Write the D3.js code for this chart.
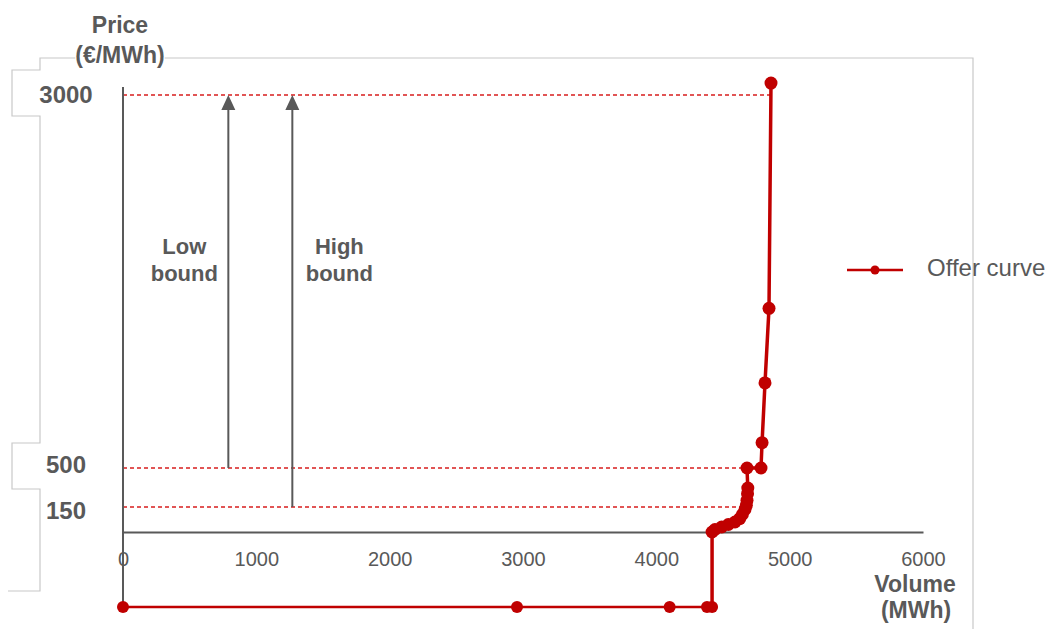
<!DOCTYPE html>
<html>
<head>
<meta charset="utf-8">
<script src="https://cdn.jsdelivr.net/npm/d3@7"></script>
<style>
  html, body { margin: 0; padding: 0; background: #fff; }
  svg { display: block; font-family: "Liberation Sans", Arial, sans-serif; }
</style>
</head>
<body>
<svg id="chart" width="1052" height="629"></svg>
<script>
// Offer curve: cumulative volume (MWh) against offer price (€/MWh)
const volumes = [0, 2955, 4100, 4380, 4418, 4418, 4440, 4490, 4540, 4590, 4625, 4645, 4665, 4675, 4680, 4684, 4686, 4680, 4785, 4793, 4815, 4845, 4860];
const prices  = [-500, -500, -500, -500, -500, 0, 15, 30, 45, 60, 80, 105, 135, 165, 210, 270, 320, 500, 500, 670, 1070, 1570, 3080];

// Axis ticks
const xTicks = [0, 1000, 2000, 3000, 4000, 5000, 6000];
const yTickLabels = [3000, 500, 150];

// Reference price levels (dashed) and how far along the volume axis they run
const guidePrices  = [3000, 500, 150];
const guideVolumes = [4860, 4680, 4700];

// Bound annotations: label lines, volume position, starting price
const boundLabels  = [["Low", "bound"], ["High", "bound"]];
const boundVolumes = [790, 1270];
const boundFrom    = [500, 150];
const boundTo      = 3000;

const seriesName = "Offer curve";

const RED = "#c00000";
const DASH_RED = "#d81e1e";
const GREY = "#595959";
const FRAME = "#c8c8c8";
const FONT = "\"Liberation Sans\", Arial, sans-serif";

const svg = d3.select("#chart");

const x = d3.scaleLinear().domain([0, 6000]).range([123, 923]);
// broken price axis: each band between labelled levels has its own stretch
const y = d3.scaleLinear().domain([-500, 0, 150, 500, 3000]).range([607, 532, 507, 468, 95]);

// frame with the stepped break marks on the price side
const br = v => [y(v) - 25, y(v) + 21];
const [a0, a1] = br(3000), [b0, b1] = br(500);
svg.append("path")
  .attr("d", `M973,629 V58 H40 V${a0} H12 V${a1} H40 V${b0} H12 V${b1} H40 V591 H8`)
  .attr("fill", "none").attr("stroke", FRAME).attr("stroke-width", 1.2);

// dashed price levels
svg.append("g").selectAll("line").data(guidePrices).join("line")
  .attr("x1", x(0)).attr("x2", (d, i) => x(guideVolumes[i]))
  .attr("y1", d => y(d)).attr("y2", d => y(d))
  .attr("stroke", DASH_RED).attr("stroke-width", 1.3)
  .attr("stroke-dasharray", "4,3");

// volume axis along price 0
const xAxis = svg.append("g")
  .attr("transform", `translate(0,${y(0)})`)
  .call(d3.axisBottom(x).tickValues(xTicks).tickSize(0).tickPadding(20).tickFormat(d3.format("d")));
xAxis.select(".domain").attr("stroke", GREY).attr("stroke-width", 2);
xAxis.selectAll("text")
  .attr("fill", GREY).attr("font-size", 20).attr("font-family", FONT);

// price axis line
svg.append("line")
  .attr("x1", x(0)).attr("x2", x(0))
  .attr("y1", y(-500)).attr("y2", y(3000) - 8)
  .attr("stroke", GREY).attr("stroke-width", 2);

// price labels
svg.append("g").selectAll("text").data(yTickLabels).join("text")
  .attr("x", 66).attr("y", d => y(d) + (d === 150 ? 12 : d === 500 ? 5 : 8))
  .attr("text-anchor", "middle")
  .attr("font-size", 24).attr("font-weight", "bold").attr("fill", GREY)
  .text(d => d);

// axis titles
const title = svg.append("g").attr("fill", GREY).attr("font-weight", "bold")
  .attr("font-size", 23).attr("text-anchor", "middle");
title.append("text").attr("x", 120).attr("y", 33).text("Price");
const unitY = title.append("text").attr("x", 120).attr("y", 63).text("(€/MWh)");
const bb = unitY.node().getBBox();
title.insert("rect", "text:nth-child(2)")
  .attr("x", bb.x).attr("y", bb.y).attr("width", bb.width).attr("height", bb.height)
  .attr("fill", "#fff");
title.append("text").attr("x", 915).attr("y", 592).text("Volume");
title.append("text").attr("x", 916).attr("y", 618).text("(MWh)");

// bound arrows
const arrows = svg.append("g");
boundVolumes.forEach((v, i) => {
  const ax = x(v), top = y(boundTo);
  const lx = i === 0 ? ax - 44 : ax + 47;
  arrows.append("line")
    .attr("x1", ax).attr("x2", ax)
    .attr("y1", y(boundFrom[i])).attr("y2", top + 10)
    .attr("stroke", GREY).attr("stroke-width", 2);
  arrows.append("path")
    .attr("d", `M${ax},${top} L${ax - 7},${top + 15} L${ax + 7},${top + 15} Z`)
    .attr("fill", GREY);
  const lbl = arrows.append("text")
    .attr("x", lx).attr("y", 254)
    .attr("text-anchor", "middle").attr("fill", GREY)
    .attr("font-size", 22).attr("font-weight", "bold");
  boundLabels[i].forEach((t, j) => {
    lbl.append("tspan").attr("x", lx).attr("dy", j === 0 ? 0 : 27).text(t);
  });
});

// offer curve: the floor-price run is drawn a little lighter than the rising part
const pts = volumes.map((v, i) => [v, prices[i]]);
const floor = d3.min(prices);
const lastFloor = d3.max(pts.map((p, i) => p[1] === floor ? i : -1));
const line = d3.line().x(d => x(d[0])).y(d => y(d[1]));
svg.append("path")
  .datum(pts.slice(0, lastFloor + 1))
  .attr("d", line)
  .attr("fill", "none").attr("stroke", RED).attr("stroke-width", 2.5);
svg.append("path")
  .datum(pts.slice(lastFloor))
  .attr("d", line)
  .attr("fill", "none").attr("stroke", RED).attr("stroke-width", 3.5)
  .attr("stroke-linejoin", "round");
svg.append("g").selectAll("circle").data(pts).join("circle")
  .attr("cx", d => x(d[0])).attr("cy", d => y(d[1]))
  .attr("r", (d) => d[1] === floor ? 6 : 6.5).attr("fill", RED);

// legend
const lg = svg.append("g");
lg.append("line").attr("x1", 847).attr("x2", 903).attr("y1", 270).attr("y2", 270)
  .attr("stroke", RED).attr("stroke-width", 2.5);
lg.append("circle").attr("cx", 875).attr("cy", 270).attr("r", 4.5).attr("fill", RED);
lg.append("text").attr("x", 927).attr("y", 276)
  .attr("font-size", 24).attr("fill", GREY).text(seriesName);
</script>
</body>
</html>
